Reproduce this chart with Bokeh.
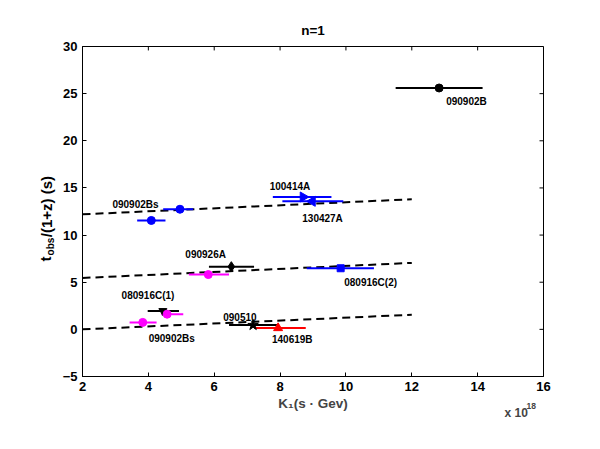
import math
from bokeh.plotting import figure
from bokeh.models import Label, Range1d, FixedTicker
from bokeh.embed import file_html
from bokeh.resources import INLINE

# ---------------- data (x in units of 1e18 s*GeV) ----------------
pt_x      = [12.83, 4.09, 4.96, 8.70, 8.98, 6.52, 5.82, 9.84, 4.44, 4.57, 3.83, 7.18, 7.94]
pt_xlo    = [11.51, 3.66, 4.45, 7.78, 8.07, 5.84, 5.23, 8.81, 3.98, 4.39, 3.43, 6.45, 7.21]
pt_xhi    = [14.15, 4.52, 5.36, 9.56, 9.92, 7.21, 6.45, 10.85, 4.93, 5.06, 4.25, 7.94, 8.78]
pt_y      = [25.6, 11.55, 12.74, 14.04, 13.58, 6.65, 5.81, 6.48, 1.96, 1.61, 0.74, 0.45, 0.14]
pt_color  = ["black", "blue", "blue", "blue", "blue", "black", "magenta", "blue",
             "black", "magenta", "magenta", "black", "red"]
pt_marker = ["circle", "circle", "circle", "tri_right", "tri_left", "diamond", "circle",
             "square", "inverted_triangle", "circle", "circle", "star", "triangle"]

lbl_text = ["090902B", "090902Bs", "100414A", "130427A", "090926A", "080916C(2)",
            "080916C(1)", "090902Bs", "090510", "140619B"]
lbl_x    = [13.66, 3.61, 8.30, 9.29, 5.74, 10.75, 3.99, 4.71, 6.78, 8.37]
lbl_y    = [24.16, 13.24, 15.20, 11.76, 7.91, 4.94, 3.54, -1.02, 1.33, -1.05]

fit_x        = [2, 12]
fit_y_top    = [12.2, 13.8]
fit_y_mid    = [5.45, 7.05]
fit_y_bottom = [0.0, 1.55]

x_ticks = [2, 4, 6, 8, 10, 12, 14, 16]
y_ticks = [-5, 0, 5, 10, 15, 20, 25, 30]
X0, X1 = 2, 16
Y0, Y1 = -5, 30

FONT = "Liberation Sans"
W, H = 584, 433
ML, MT, FW, FH = 82, 46, 461, 334
MR = W - ML - FW
MB = H - MT - FH
PX_X = FW / (X1 - X0)   # pixels per x unit
PX_Y = FH / (Y1 - Y0)   # pixels per y unit

p = figure(width=W, height=H, x_range=Range1d(X0, X1), y_range=Range1d(Y0, Y1),
           output_backend="svg", toolbar_location=None,
           min_border_left=ML, min_border_right=MR, min_border_top=MT, min_border_bottom=MB)
p.xgrid.visible = False
p.ygrid.visible = False
p.outline_line_color = "black"
p.outline_line_width = 1
p.background_fill_color = "white"
p.border_fill_color = "white"

def style_axis(ax, ticks):
    ax.ticker = FixedTicker(ticks=ticks)
    ax.major_tick_in = 4
    ax.major_tick_out = 0
    ax.minor_tick_line_color = None
    ax.axis_line_color = "black"
    ax.major_tick_line_color = "black"
    ax.major_label_text_font = FONT
    ax.major_label_text_font_style = "bold"
    ax.major_label_text_font_size = "13px"
    ax.major_label_text_color = "black"
    ax.major_label_standoff = 5

style_axis(p.xaxis[0], x_ticks)
style_axis(p.yaxis[0], y_ticks)
p.xaxis.axis_label = "K\u2081(s \u00b7 Gev)"
p.xaxis.axis_label_text_font = FONT
p.xaxis.axis_label_text_font_style = "bold"
p.xaxis.axis_label_text_font_size = "13.5px"
p.xaxis.axis_label_standoff = 2

# inward ticks on the top and right edges of the box
tick_dy = 4 / PX_Y
tick_dx = 4 / PX_X
p.segment(x0=x_ticks, y0=[Y1] * len(x_ticks), x1=x_ticks, y1=[Y1 - tick_dy] * len(x_ticks),
          line_color="black", line_width=1)
p.segment(x0=[X1] * len(y_ticks), y0=y_ticks, x1=[X1 - tick_dx] * len(y_ticks), y1=y_ticks,
          line_color="black", line_width=1)

# fitted dashed lines
for fy in (fit_y_top, fit_y_mid, fit_y_bottom):
    p.line(fit_x, fy, line_color="black", line_width=2, line_dash="8 5")

# error bars
p.segment(x0=pt_xlo, y0=pt_y, x1=pt_xhi, y1=pt_y, line_color=pt_color, line_width=2)

# markers
for x, y, c, m in zip(pt_x, pt_y, pt_color, pt_marker):
    if m == "tri_right":
        p.scatter([x], [y], marker="triangle", angle=-math.pi / 2, size=10,
                  fill_color=c, line_color=c)
    elif m == "tri_left":
        p.scatter([x], [y], marker="triangle", angle=math.pi / 2, size=10,
                  fill_color=c, line_color=c)
    else:
        sz = {"circle": 8, "diamond": 10, "square": 7, "inverted_triangle": 8,
              "star": 11, "triangle": 9}[m]
        p.scatter([x], [y], marker=m, size=sz, fill_color=c, line_color=c)

# point labels
for t, x, y in zip(lbl_text, lbl_x, lbl_y):
    p.add_layout(Label(x=x, y=y, text=t, text_align="center", text_baseline="middle",
                       text_font=FONT, text_font_style="bold", text_font_size="10px",
                       text_color="black"))

def sx(px):  # reference pixel column -> data x
    return X0 + (px - ML) / PX_X

def sy(py):  # reference pixel row -> data y
    return Y0 + (MT + FH - py) / PX_Y

# title
p.add_layout(Label(x=sx(312.5), y=sy(30), text="n=1", text_align="center",
                   text_baseline="middle", text_font=FONT, text_font_style="bold",
                   text_font_size="13.5px", text_color="black"), "above")

# y-axis label with subscript, built from rotated pieces
yl_common = dict(angle=math.pi / 2, text_align="left", text_baseline="middle",
                 text_font=FONT, text_font_style="bold", text_color="black")
p.add_layout(Label(x=sx(44.5), y=sy(263.5), text="t", text_font_size="15px", **yl_common), "left")
p.add_layout(Label(x=sx(50), y=sy(257.5), text="obs", text_font_size="10px", **yl_common), "left")
p.add_layout(Label(x=sx(45.5), y=sy(239), text="/(1+z) (s)", text_font_size="15px", **yl_common), "left")

# x-axis exponent
p.add_layout(Label(x=sx(504), y=sy(417), text="x 10", text_align="left", text_baseline="middle",
                   text_font=FONT, text_font_style="bold", text_font_size="12px"), "below")
p.add_layout(Label(x=sx(526), y=sy(409.5), text="18", text_align="left", text_baseline="middle",
                   text_font=FONT, text_font_style="bold", text_font_size="8.5px"), "below")

open("out.html", "w").write(file_html(p, INLINE))
